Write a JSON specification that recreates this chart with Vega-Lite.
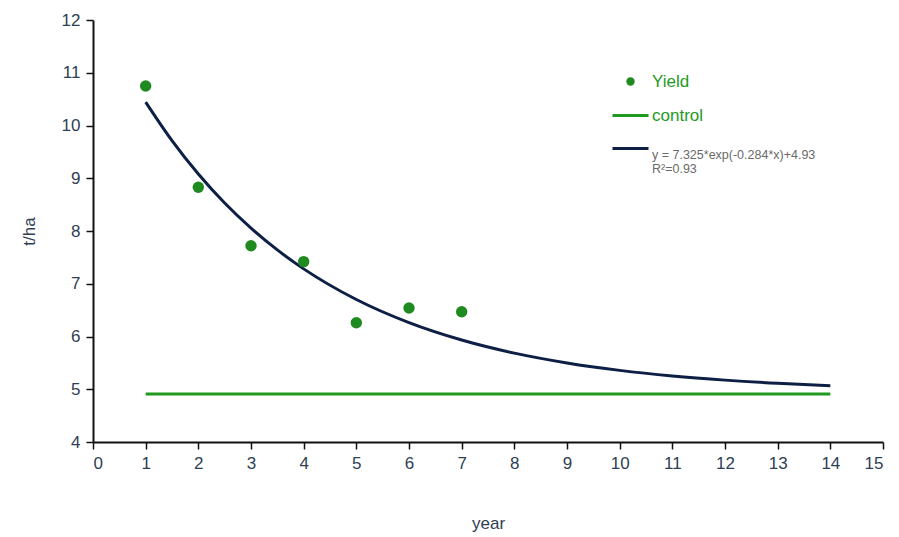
{
  "$schema": "https://vega.github.io/schema/vega-lite/v6.json",
  "width": 790,
  "height": 422,
  "autosize": "none",
  "padding": {"left": 93, "top": 20, "right": 16, "bottom": 95},
  "background": "white",
  "config": {
    "view": {"stroke": null},
    "font": "Liberation Sans",
    "axis": {
      "grid": false,
      "domainColor": "#111111",
      "domainWidth": 2,
      "tickColor": "#111111",
      "tickWidth": 1.5,
      "tickSize": 7,
      "labelFont": "Liberation Sans",
      "labelFontSize": 17,
      "labelColor": "#2e4053",
      "titleFont": "Liberation Sans",
      "titleFontSize": 17,
      "titleFontWeight": "normal",
      "titleColor": "#2e4053"
    }
  },
  "datasets": {
    "yield": [
      {"year": 1, "value": 10.75, "series": "Yield"},
      {"year": 2, "value": 8.83, "series": "Yield"},
      {"year": 3, "value": 7.72, "series": "Yield"},
      {"year": 4, "value": 7.42, "series": "Yield"},
      {"year": 5, "value": 6.26, "series": "Yield"},
      {"year": 6, "value": 6.54, "series": "Yield"},
      {"year": 7, "value": 6.47, "series": "Yield"}
    ],
    "control": [
      {"year": 1, "value": 4.91, "series": "control"},
      {"year": 14, "value": 4.91, "series": "control"}
    ],
    "fit": [
      {"year": 1, "value": 10.444, "series": "fit"},
      {"year": 1.5, "value": 9.714, "series": "fit"},
      {"year": 2, "value": 9.081, "series": "fit"},
      {"year": 2.5, "value": 8.531, "series": "fit"},
      {"year": 3, "value": 8.055, "series": "fit"},
      {"year": 3.5, "value": 7.641, "series": "fit"},
      {"year": 4, "value": 7.282, "series": "fit"},
      {"year": 5, "value": 6.701, "series": "fit"},
      {"year": 6, "value": 6.263, "series": "fit"},
      {"year": 7, "value": 5.933, "series": "fit"},
      {"year": 8, "value": 5.685, "series": "fit"},
      {"year": 9, "value": 5.499, "series": "fit"},
      {"year": 10, "value": 5.358, "series": "fit"},
      {"year": 11, "value": 5.252, "series": "fit"},
      {"year": 12, "value": 5.173, "series": "fit"},
      {"year": 13, "value": 5.113, "series": "fit"},
      {"year": 14, "value": 5.068, "series": "fit"}
    ]
  },
  "encoding": {
    "x": {
      "field": "year",
      "type": "quantitative",
      "scale": {"domain": [0, 15], "nice": false},
      "axis": {"values": [0,1,2,3,4,5,6,7,8,9,10,11,12,13,14,15], "title": "year", "titlePadding": 44, "labelPadding": 6}
    },
    "y": {
      "field": "value",
      "type": "quantitative",
      "scale": {"domain": [4, 12], "nice": false, "zero": false},
      "axis": {"values": [4,5,6,7,8,9,10,11,12], "title": "t/ha", "titlePadding": 23, "labelPadding": 6}
    },
    "color": {
      "field": "series",
      "type": "nominal",
      "scale": {"domain": ["Yield", "control", "fit"], "range": ["#1f8a1f", "#1f9a1f", "#0d1f45"]},
      "legend": {
        "title": null,
        "orient": "none",
        "legendX": 529,
        "legendY": 53,
        "rowPadding": 16,
        "labelFont": "Liberation Sans",
        "labelFontSize": 17,
        "labelOffset": 13,
        "labelLimit": 400,
        "labelExpr": "datum.value == 'fit' ? ['y = 7.325*exp(-0.284*x)+4.93', 'R²=0.93'] : datum.label",
        "encode": {
          "symbols": {
            "update": {
              "shape": {"signal": "datum.value == 'Yield' ? 'circle' : 'stroke'"},
              "size": {"signal": "datum.value == 'Yield' ? 70 : 1296"},
              "strokeWidth": {"signal": "datum.value == 'Yield' ? 0 : 3"},
              "fill": {"signal": "datum.value == 'Yield' ? '#1f8a1f' : 'transparent'"},
              "stroke": {"signal": "datum.value == 'fit' ? '#0d1f45' : '#1f9a1f'"},
              "opacity": {"value": 1}
            }
          },
          "labels": {
            "update": {
              "fill": {"signal": "datum.value == 'fit' ? '#6a6a6a' : '#1f9a1f'"},
              "fontSize": {"signal": "datum.value == 'fit' ? 12.5 : 17"},
              "baseline": {"signal": "datum.value == 'fit' ? 'top' : 'middle'"}
            }
          }
        }
      }
    }
  },
  "layer": [
    {
      "data": {"name": "fit"},
      "mark": {"type": "line", "strokeWidth": 3, "interpolate": "monotone"}
    },
    {
      "data": {"name": "control"},
      "mark": {"type": "line", "strokeWidth": 3}
    },
    {
      "data": {"name": "yield"},
      "mark": {"type": "point", "filled": true, "shape": "circle", "size": 130, "opacity": 1}
    }
  ]
}
